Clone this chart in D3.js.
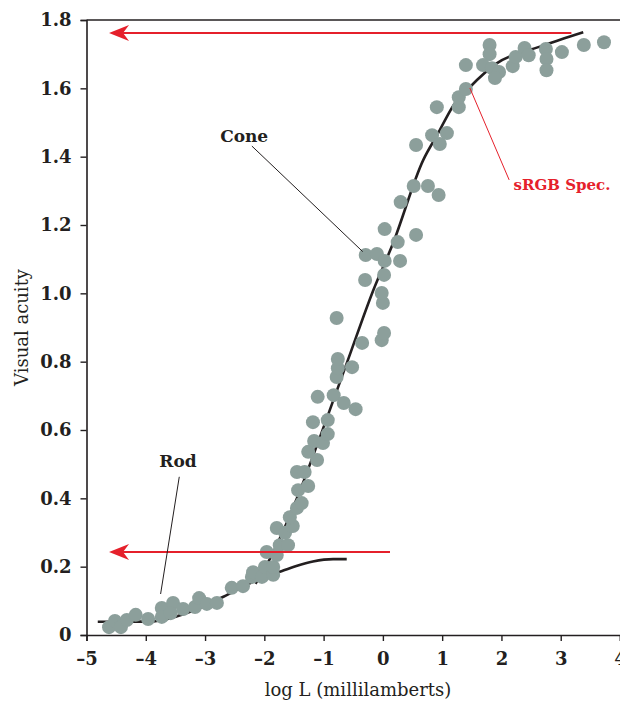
<!DOCTYPE html>
<html>
<head>
<meta charset="utf-8">
<script src="https://cdn.jsdelivr.net/npm/d3@7"></script>
<style>
  body { margin: 0; background: #fff; }
  svg { display: block; }
</style>
</head>
<body>
<svg id="chart" width="620" height="702"></svg>
<script>
// measured acuity, [log L, acuity]
const acuityPoints = [
  [-4.62, 0.023], [-4.52, 0.041], [-4.42, 0.023], [-4.32, 0.044], [-4.17, 0.059],
  [-3.96, 0.047], [-3.73, 0.079], [-3.73, 0.053], [-3.54, 0.094], [-3.58, 0.064],
  [-3.37, 0.076], [-3.17, 0.082], [-3.10, 0.108], [-2.97, 0.091], [-2.80, 0.094],
  [-2.55, 0.138], [-2.36, 0.143], [-2.21, 0.170], [-2.19, 0.184], [-2.04, 0.170],
  [-1.99, 0.199], [-1.85, 0.176], [-1.85, 0.199], [-1.96, 0.243], [-1.79, 0.234],
  [-1.74, 0.263], [-1.60, 0.263], [-1.79, 0.313], [-1.65, 0.299], [-1.52, 0.319],
  [-1.57, 0.345], [-1.45, 0.372], [-1.37, 0.386], [-1.43, 0.424], [-1.26, 0.436],
  [-1.45, 0.477], [-1.32, 0.477], [-1.11, 0.512], [-1.26, 0.536], [-1.16, 0.568],
  [-1.01, 0.562], [-0.93, 0.588], [-1.18, 0.623], [-0.93, 0.629], [-1.10, 0.697],
  [-0.83, 0.702], [-0.66, 0.679], [-0.46, 0.661], [-0.78, 0.755], [-0.76, 0.781],
  [-0.76, 0.808], [-0.52, 0.784], [-0.78, 0.928], [-0.35, 0.855], [-0.02, 0.863],
  [0.02, 0.884], [0.00, 0.972], [-0.02, 1.001], [-0.30, 1.039], [0.02, 1.054],
  [-0.29, 1.112], [-0.10, 1.115], [0.03, 1.095], [0.29, 1.095], [0.25, 1.150],
  [0.03, 1.188], [0.56, 1.171], [0.30, 1.267], [0.52, 1.314], [0.76, 1.314],
  [0.94, 1.288], [0.56, 1.434], [0.83, 1.463], [0.96, 1.437], [1.08, 1.469],
  [0.91, 1.545], [1.28, 1.545], [1.28, 1.574], [1.40, 1.598], [1.40, 1.668],
  [1.80, 1.727], [1.80, 1.700], [1.69, 1.668], [1.84, 1.659], [1.96, 1.648],
  [1.89, 1.630], [2.19, 1.665], [2.24, 1.692], [2.39, 1.718], [2.46, 1.697],
  [2.75, 1.715], [2.76, 1.686], [2.76, 1.653], [3.02, 1.706], [3.39, 1.727],
  [3.73, 1.735]
];

// fitted curves
const rodCurve = [
  [-4.81, 0.039], [-4.30, 0.039], [-3.87, 0.040], [-3.71, 0.044], [-3.25, 0.068],
  [-2.69, 0.112], [-2.19, 0.156], [-1.74, 0.185], [-1.46, 0.202], [-1.18, 0.215],
  [-0.84, 0.222], [-0.61, 0.222]
];
const coneCurve = [
  [-2.15, 0.150], [-1.90, 0.225], [-1.45, 0.400], [-1.06, 0.580], [-0.60, 0.800],
  [-0.16, 1.010], [0.17, 1.146], [0.68, 1.390], [0.93, 1.468], [1.19, 1.550],
  [1.47, 1.604], [1.92, 1.673], [2.65, 1.722], [3.38, 1.764]
];

// red sRGB limits: [tail x, level]
const srgbArrows = [[3.18, 1.762], [0.12, 0.243]];
const arrowTipX = -4.62;

const xTicks = [-5, -4, -3, -2, -1, 0, 1, 2, 3, 4];
const yTicks = [0, 0.2, 0.4, 0.6, 0.8, 1.0, 1.2, 1.4, 1.6, 1.8];

const svg = d3.select("#chart");
const font = "'DejaVu Serif', serif";
const ink = "#231f20";
const red = "#e5202b";

const x = d3.scaleLinear().domain([-5, 4]).range([86.5, 620]);
const y = d3.scaleLinear().domain([0, 1.8]).range([635, 20]);

const xAxis = svg.append("g")
    .attr("transform", `translate(0,${y(0)})`)
    .call(d3.axisBottom(x).tickValues(xTicks).tickSizeOuter(0).tickSize(6).tickPadding(11)
        .tickFormat(d => d < 0 ? "\u2013" + Math.abs(d) : String(d)));
const yAxis = svg.append("g")
    .attr("transform", `translate(${x(-5)},0)`)
    .call(d3.axisLeft(y).tickValues(yTicks).tickSizeOuter(0).tickSize(6).tickPadding(9)
        .tickFormat(d => d === 0 ? "0" : d3.format(".1f")(d)));

[xAxis, yAxis].forEach(g => {
    g.selectAll(".domain").attr("stroke", ink).attr("stroke-width", 1.6);
    g.selectAll(".tick line").attr("stroke", ink).attr("stroke-width", 1.4);
    g.selectAll("text").attr("font-family", font).attr("font-size", 18)
        .attr("font-weight", "bold").attr("fill", ink);
});

// top frame line
svg.append("line")
    .attr("x1", x(-5)).attr("x2", x(4))
    .attr("y1", y(1.8)).attr("y2", y(1.8))
    .attr("stroke", ink).attr("stroke-width", 1.4);

const line = d3.line().x(d => x(d[0])).y(d => y(d[1])).curve(d3.curveMonotoneX);

[rodCurve, coneCurve].forEach(c => {
    svg.append("path").datum(c)
        .attr("d", line)
        .attr("fill", "none")
        .attr("stroke", ink)
        .attr("stroke-width", 2.6);
});

svg.append("g").selectAll("circle")
    .data(acuityPoints)
    .join("circle")
    .attr("cx", d => x(d[0]))
    .attr("cy", d => y(d[1]))
    .attr("r", 7)
    .attr("fill", "#8c9f9b");

// red arrows
srgbArrows.forEach(([tail, level]) => {
    const tx = x(arrowTipX), ty = y(level);
    svg.append("line")
        .attr("x1", x(tail)).attr("x2", tx + 14)
        .attr("y1", ty).attr("y2", ty)
        .attr("stroke", red).attr("stroke-width", 2);
    svg.append("path")
        .attr("d", `M${tx},${ty} L${tx + 20},${ty - 8} L${tx + 14},${ty} L${tx + 20},${ty + 8} Z`)
        .attr("fill", red);
});

// annotations
function leader(x1, y1, x2, y2, color) {
    svg.append("line")
        .attr("x1", x(x1)).attr("y1", y(y1))
        .attr("x2", x(x2)).attr("y2", y(y2))
        .attr("stroke", color).attr("stroke-width", 1);
}
leader(-2.21, 1.431, -0.34, 1.122, ink);
leader(-3.435, 0.463, -3.75, 0.12, ink);
leader(1.467, 1.601, 2.13, 1.332, red);

function label(px, py, size, color, str) {
    svg.append("text").attr("x", px).attr("y", py)
        .attr("text-anchor", "middle").attr("font-family", font)
        .attr("font-size", size).attr("font-weight", "bold")
        .attr("fill", color).text(str);
}
label(x(-2.34), 142, 17, ink, "Cone");
label(178, 467, 17, ink, "Rod");
label(562, 190, 15, red, "sRGB Spec.");

// axis titles
svg.append("text").attr("x", 358).attr("y", 696)
    .attr("text-anchor", "middle").attr("font-family", font).attr("font-size", 18)
    .attr("fill", ink).text("log L (millilamberts)");
svg.append("text")
    .attr("transform", `translate(28,${y(0.9)}) rotate(-90)`)
    .attr("text-anchor", "middle").attr("font-family", font).attr("font-size", 18)
    .attr("fill", ink).text("Visual acuity");
</script>
</body>
</html>
